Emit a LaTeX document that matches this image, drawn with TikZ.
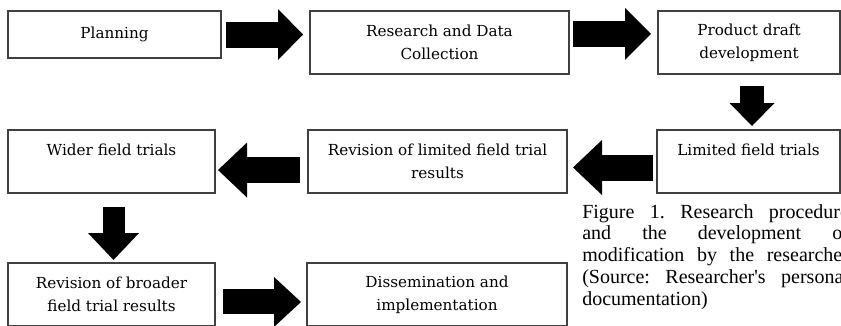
\documentclass[tikz,border=0pt]{standalone}
\usepackage{fontspec}
\newfontfamily\notefont{Liberation Serif}
\newfontfamily\boxfont{DejaVu Serif}
\usetikzlibrary{arrows.meta}
\tolerance=10000
\hbadness=10000
\hyphenpenalty=10000

\begin{document}
\begin{tikzpicture}[x=0.75pt, y=-0.75pt,
  stage/.style={draw=black!75, line width=0.8pt, inner sep=0pt, outer sep=0pt,
    align=center, font=\boxfont\fontsize{11.4}{17.25}\selectfont},
  blockarrow/.style n args={3}{line width=#1,
    -{Triangle[length=#2, width=#3, line width=0pt]}},
  note/.style={inner sep=0pt, text width=200pt, align=justify,
    font=\notefont\frenchspacing\fontsize{15}{16.3}\selectfont}]
  \useasboundingbox (0,0) rectangle (841,325);

  \node[stage, minimum width=159.75pt, minimum height=35.25pt] (planning) at (114.5,34.5) {Planning};
  \node[stage, minimum width=194.25pt, minimum height=47.25pt] (research) at (439.5,42.5) {Research and Data\\Collection};
  \node[stage, minimum width=136.5pt, minimum height=47.25pt] (product) at (749,42.5) {Product draft\\development};
  \node[stage, minimum width=137.25pt, minimum height=47.25pt] (limited) at (748.5,161.5) {Limited field trials\\\mbox{}};
  \node[stage, minimum width=194.25pt, minimum height=47.25pt] (revlimited) at (437.5,161.5) {Revision of limited field trial\\results};
  \node[stage, minimum width=155.25pt, minimum height=47.25pt] (wider) at (111.5,161.5) {Wider field trials\\\mbox{}};
  \node[stage, minimum width=155.25pt, minimum height=47.25pt] (revbroader) at (111.5,294.5) {Revision of broader\\field trial results};
  \node[stage, minimum width=195pt, minimum height=47.25pt] (dissemination) at (437,294.5) {Dissemination and\\implementation};

  \draw[blockarrow={19.5pt}{18.75pt}{38.25pt}, shorten <=3.75pt, shorten >=5.25pt] (planning.east) -- (planning.east -| research.west);
  \draw[blockarrow={19.5pt}{19.5pt}{39pt}, shorten <=3pt, shorten >=5.25pt] ([yshift=6.4pt]research.east) -- ([yshift=6.4pt]product.west);
  \draw[blockarrow={18pt}{17.25pt}{33.75pt}, shorten <=9pt, shorten >=3pt] ([xshift=2.25pt]product.south) -- ([xshift=2.25pt]product.south |- limited.north);
  \draw[blockarrow={19.5pt}{21.75pt}{41.25pt}, shorten <=3pt, shorten >=4.5pt] ([yshift=-4.5pt]limited.west) -- ([yshift=-4.5pt]revlimited.east);
  \draw[blockarrow={19.5pt}{21.75pt}{41.25pt}, shorten <=6pt, shorten >=2.25pt] ([yshift=-6.4pt]revlimited.west) -- ([yshift=-6.4pt]wider.east);
  \draw[blockarrow={16.5pt}{20.25pt}{38.25pt}, shorten <=10.5pt, shorten >=2.25pt] ([xshift=1.5pt]wider.south) -- ([xshift=1.5pt]revbroader.north);
  \draw[blockarrow={18.75pt}{20.25pt}{37.5pt}, shorten <=6pt, shorten >=4.5pt] ([yshift=-5.6pt]revbroader.east) -- ([yshift=-5.6pt]dissemination.west);

  \node[note, anchor=north west] (caption) at (582,204) {Figure 1. Research procedure\linebreak and the development of\linebreak modification by the researcher\linebreak (Source: Researcher's personal\linebreak documentation)};
\end{tikzpicture}
\end{document}
